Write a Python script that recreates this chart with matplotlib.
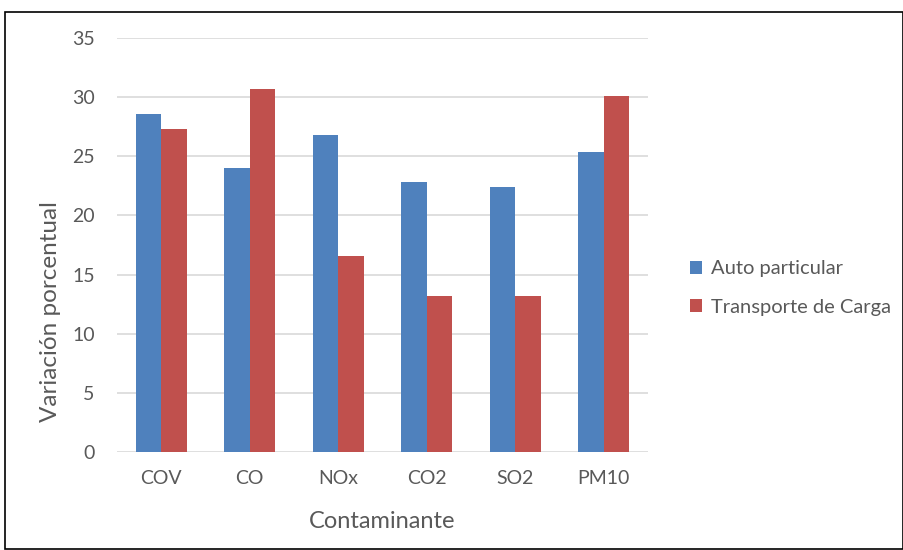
import matplotlib
matplotlib.use("Agg")
import matplotlib.pyplot as plt
import numpy as np
from matplotlib.patches import Rectangle

contaminantes = ["COV", "CO", "NOx", "CO2", "SO2", "PM10"]
auto_particular = [28.6, 24.0, 26.8, 22.8, 22.4, 25.4]
transporte_carga = [27.3, 30.7, 16.6, 13.2, 13.2, 30.1]
series_names = ["Auto particular", "Transporte de Carga"]

plt.rcParams["font.family"] = ["Lato", "DejaVu Sans"]
text_color = "#595959"

W, H = 904, 550
fig = plt.figure(figsize=(W / 100, H / 100), dpi=100)
ax = fig.add_axes([117 / W, 1 - 452 / H, (648 - 117) / W, (452 - 38) / H])

x = np.arange(len(contaminantes))
width = 0.29
ax.bar(x - width / 2, auto_particular, width, color="#4f81bd", label=series_names[0], zorder=3)
ax.bar(x + width / 2, transporte_carga, width, color="#c0504d", label=series_names[1], zorder=3)

ax.set_xlim(-0.5, len(contaminantes) - 0.5)
ax.set_ylim(0, 35)
ax.set_yticks(range(0, 36, 5))
ax.set_xticks(x)
ax.set_xticklabels(contaminantes)
ax.grid(axis="y", color="#d9d9d9", linewidth=1.2, zorder=0)
for s in ax.spines.values():
    s.set_visible(False)
ax.tick_params(length=0, labelsize=14, colors=text_color)
ax.tick_params(axis="x", pad=13)
ax.tick_params(axis="y", pad=16)

fig.text(51 / W, 1 - 312 / H, "Variación porcentual", rotation=90, ha="center", va="center",
         fontsize=17.5, color=text_color)
fig.text(382 / W, 1 - 521 / H, "Contaminante", ha="center", va="center",
         fontsize=17, color=text_color)

leg = fig.legend(loc="center left", bbox_to_anchor=(672 / W, 1 - 288 / H), frameon=False,
                 fontsize=14.5, handlelength=0.6, handleheight=0.6, handletextpad=0.45,
                 labelspacing=1.05, labelcolor=text_color)

fig.patches.append(Rectangle((5 / W, 0.002), (W - 6) / W, 1 - 12 / H - 0.002,
                             transform=fig.transFigure, fill=False, edgecolor="black",
                             linewidth=1.2))

fig.savefig("out.png", dpi=100)
